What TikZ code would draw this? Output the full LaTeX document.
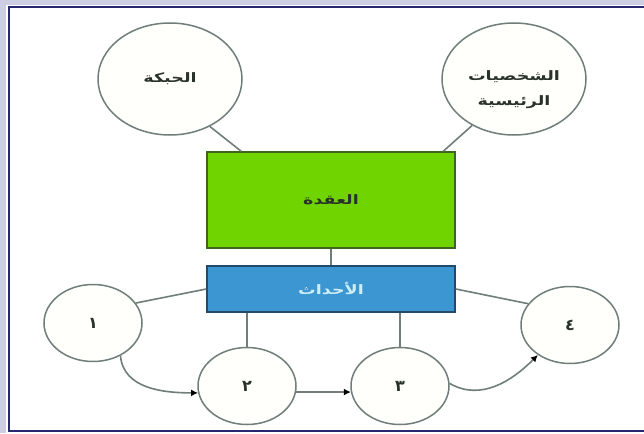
\documentclass[tikz,border=0pt]{standalone}
\usepackage{graphicx}
\usepackage{fontspec}
\newfontfamily\arabicfont[Script=Arabic]{DejaVu Sans}
\TeXXeTstate=1
\usetikzlibrary{calc}
\usetikzlibrary{shapes.geometric}
\usetikzlibrary{arrows.meta}

\newcommand{\artext}[1]{\scalebox{1.35}[1]{\beginR #1\endR}}

\definecolor{framenavy}{RGB}{40,40,110}
\definecolor{framelav}{RGB}{205,205,228}
\definecolor{linegray}{RGB}{112,126,122}
\definecolor{knotgreen}{RGB}{112,212,0}
\definecolor{knotgreenline}{RGB}{62,100,30}
\definecolor{eventblue}{RGB}{60,150,210}
\definecolor{eventblueline}{RGB}{35,75,105}
\definecolor{ellfill}{RGB}{255,255,251}
\definecolor{eventtext}{RGB}{205,238,245}
\definecolor{inktext}{RGB}{40,50,40}

\begin{document}
\begin{tikzpicture}[
    x=1pt, y=-1pt,
    every node/.style={font=\arabicfont\bfseries\fontsize{13}{16}\selectfont, text=inktext},
    topic/.style={ellipse, draw=linegray, fill=ellfill, line width=1.5pt, minimum width=144pt, minimum height=112pt, inner sep=0pt},
    eventcirc/.style={ellipse, draw=linegray, fill=ellfill, line width=1.5pt, minimum width=98pt, minimum height=77pt, inner sep=0pt, font=\arabicfont\bfseries\fontsize{16}{18}\selectfont},
    knotbox/.style={rectangle, draw=knotgreenline, fill=knotgreen, line width=1.5pt, minimum width=248pt, minimum height=96pt},
    eventbox/.style={rectangle, draw=eventblueline, fill=eventblue, line width=1.5pt, minimum width=248pt, minimum height=46pt, text=eventtext},
    link/.style={draw=linegray, line width=1.6pt},
    arr/.style={link, -{Latex[length=7pt, width=7pt, color=black]}}
]

% Frame
\useasboundingbox (0,0) rectangle (644,433);
\fill[white] (0,0) rectangle (644,433);
\fill[framelav] (0,0) rectangle (644,5);
\fill[framelav] (0,0) rectangle (6,433);
\draw[framenavy, line width=2.5pt] (644,7) -- (9,7) -- (9,431) -- (644,431);

% Top: plot and characters
\node[topic] (plot) at (170,79) {\artext{الحبكة}};
\node[topic] (chars) at (514,79) {};
\node[align=center] (charslabel) at (514,90) {\artext{الشخصيات}\\[9pt]\artext{الرئيسية}};

% Middle: knot and events
\node[knotbox] (knot) at (331,200) {\artext{العقدة}};
\node[eventbox] (events) at (331,289) {\artext{الأحداث}};

\draw[link] (plot.-50) -- ($(knot.north west)!0.14!(knot.north east)$);
\draw[link] (chars.-132) -- ($(knot.north west)!0.95!(knot.north east)$);
\draw[link] (knot) -- (events);

% Bottom: event sequence
\node[eventcirc] (e1) at (93,323) {١};
\node[eventcirc] (e2) at (247,386) {٢};
\node[eventcirc] (e3) at (400,386) {٣};
\node[eventcirc] (e4) at (570,325) {٤};

\draw[link] (events.west) -- (e1.25);
\draw[link] (events.east) -- (e4.153);
\draw[link] (events.south -| e2) -- (e2);
\draw[link] (events.south -| e3) -- (e3);

\draw[arr] (e1.-50) to[out=-85, in=180] (e2.188);
\draw[arr] (e2.-7) -- (e3.187);
\draw[arr] (e3.3) to[out=-30, in=225] (e4.-137);

\end{tikzpicture}
\end{document}
